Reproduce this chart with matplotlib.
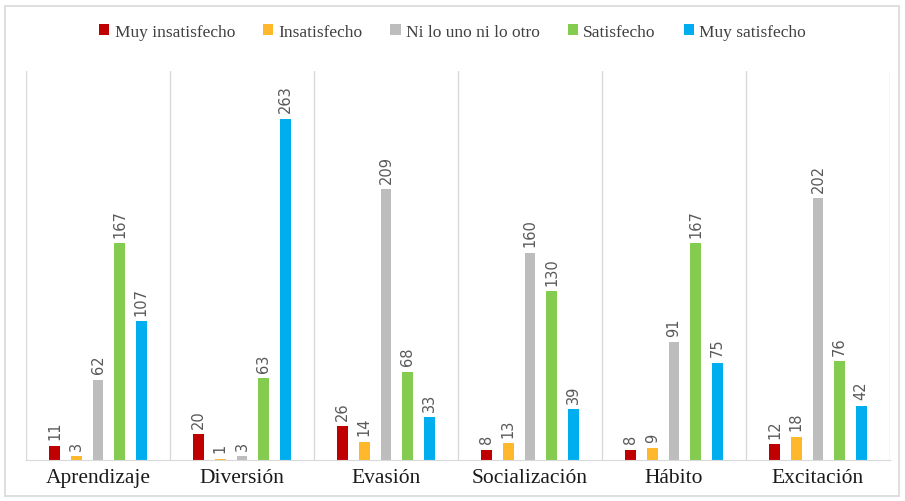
import matplotlib.pyplot as plt
import numpy as np
from matplotlib.patches import Rectangle

categories = ['Aprendizaje', 'Diversión', 'Evasión', 'Socialización', 'Hábito', 'Excitación']
series_names = ['Muy insatisfecho', 'Insatisfecho', 'Ni lo uno ni lo otro', 'Satisfecho', 'Muy satisfecho']
muy_insatisfecho = [11, 20, 26, 8, 8, 12]
insatisfecho = [3, 1, 14, 13, 9, 18]
ni_lo_uno = [62, 3, 209, 160, 91, 202]
satisfecho = [167, 63, 68, 130, 167, 76]
muy_satisfecho = [107, 263, 33, 39, 75, 42]

colors = ['#C00000', '#FFB72B', '#BDBDBD', '#84CC4F', '#00AEEF']
series = [muy_insatisfecho, insatisfecho, ni_lo_uno, satisfecho, muy_satisfecho]

fig = plt.figure(figsize=(9.05, 5.02), dpi=100)
ax = fig.add_axes([26 / 905, 1 - 461 / 502, 864 / 905, 389 / 502])

# outer frame of the chart
fig.patches.append(Rectangle((5 / 905, 5 / 502), 894 / 905, 490 / 502, transform=fig.transFigure,
                             fill=False, edgecolor='#D9D9D9', linewidth=1.2))

x = np.arange(len(categories))
step = 0.15
width = 0.075
for i, (vals, name, c) in enumerate(zip(series, series_names, colors)):
    pos = x + (i - 2) * step
    bars = ax.bar(pos, vals, width=width, color=c, label=name)
    for p, v in zip(pos, vals):
        ax.text(p, v + 5, str(v), rotation=90, ha='center', va='bottom',
                fontsize=10.5, color='#595959', family='DejaVu Sans')

ax.set_xlim(-0.5, len(categories) - 0.5)
ax.set_ylim(0, 300)
ax.set_yticks([])
ax.set_xticks(x)
ax.set_xticklabels(categories, family='Liberation Serif', fontsize=15.5, color='#1a1a1a')
ax.tick_params(axis='x', length=0, pad=6)

for b in np.arange(-0.5, len(categories), 1):
    ax.axvline(b, color='#D9D9D9', linewidth=1.0)
for s in ['top', 'left', 'right']:
    ax.spines[s].set_visible(False)
ax.spines['bottom'].set_color('#D9D9D9')

leg = fig.legend(loc='center', bbox_to_anchor=(0.5, 1 - 33 / 502), ncol=5, frameon=False,
                 handlelength=0.6, handleheight=0.6, handletextpad=0.3, columnspacing=1.6,
                 prop={'family': 'Liberation Serif', 'size': 12.5})
for t in leg.get_texts():
    t.set_color('#404040')

fig.savefig('out.png', dpi=100)
